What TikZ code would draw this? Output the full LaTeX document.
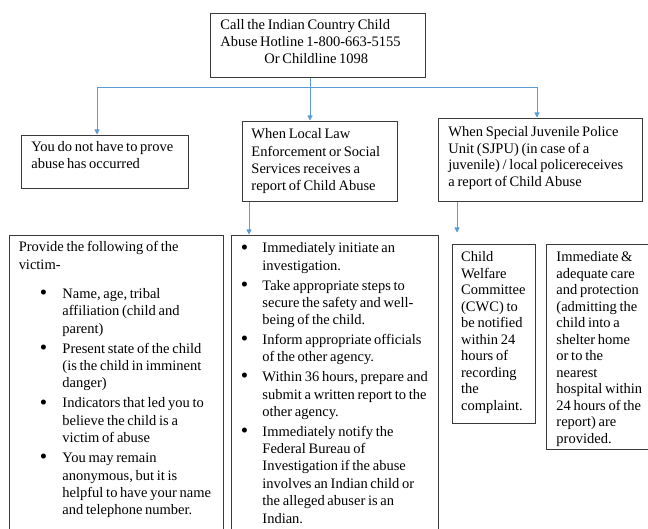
\documentclass[tikz,border=0pt]{standalone}
\usepackage{fontspec}
\setmainfont{Liberation Serif}[WordSpace=0.75]
\usetikzlibrary{arrows.meta}
\definecolor{conncol}{HTML}{5B9BD5}
\definecolor{edgecol}{HTML}{3A3A3A}
\newcommand\tstr{\rule{0pt}{11pt}}
\newcommand\bl[1]{\mbox{#1}\par}
\newcommand\bigbul{\raisebox{-1.2pt}{\fontsize{21}{21}\selectfont\textbullet}}
\newcommand\lbu{\hspace*{21pt}\makebox[22.7pt][l]{\bigbul}}
\newcommand\lco{\hspace*{43.7pt}}
\newcommand\mbu{\hspace*{1.5pt}\makebox[21.5pt][l]{\bigbul}}
\newcommand\mco{\hspace*{23pt}}
\newcommand\fs[1]{\fontsize{14.5}{#1}\selectfont}
\tikzset{
  box/.style={draw=edgecol, line width=0.9pt, anchor=north west, fill=white},
  conn/.style={draw=conncol, line width=0.8pt},
  arr/.style={conn, -{Triangle[width=5pt,length=5pt]}, shorten >=0.5pt}
}
\begin{document}
\begin{tikzpicture}[x=1pt,y=-1pt]
\fill[white] (0,0) rectangle (648,529);
\useasboundingbox (0,0) rectangle (648,529);

\node[box, inner xsep=10pt, inner ysep=5.8pt] (call) at (210,12.7)
 {\parbox[t][52.7pt][t]{195pt}{\fs{16.7}%
  \bl{\tstr Call the Indian Country Child}%
  \bl{Abuse Hotline 1-800-663-5155}%
  \bl{\hspace*{44pt}Or Childline 1098}}};

\node[box, inner xsep=10pt, inner ysep=5.5pt] (you) at (21,135)
 {\parbox[t][42pt][t]{147pt}{\fs{17}%
  \bl{\tstr You do not have to prove}%
  \bl{abuse has occurred}}};

\node[box, inner xsep=9pt, inner ysep=6.5pt] (lle) at (242,121)
 {\parbox[t][67pt][t]{137pt}{\fs{17.3}%
  \bl{\tstr When Local Law}%
  \bl{Enforcement or Social}%
  \bl{Services receives a}%
  \bl{report of Child Abuse}}};

\node[box, inner xsep=10pt, inner ysep=7.5pt] (sjpu) at (438,118)
 {\parbox[t][68pt][t]{184pt}{\fs{16.4}%
  \bl{\tstr When Special Juvenile Police}%
  \bl{Unit (SJPU) (in case of a}%
  \bl{juvenile) / local policereceives}%
  \bl{a report of Child Abuse}}};

\node[box, inner xsep=9.3pt, inner ysep=5.5pt] (prov) at (9,235)
 {\parbox[t][305pt][t]{195.4pt}{\fs{17.4}%
  \bl{\tstr Provide the following of the}%
  \bl{victim-}%
  \vspace{11.6pt}%
  \bl{\lbu Name, age, tribal}%
  \bl{\lco affiliation (child and}%
  \bl{\lco parent)}%
  \vspace{2.6pt}%
  \bl{\lbu Present state of the child}%
  \bl{\lco (is the child in imminent}%
  \bl{\lco danger)}%
  \vspace{2.6pt}%
  \bl{\lbu Indicators that led you to}%
  \bl{\lco believe the child is a}%
  \bl{\lco victim of abuse}%
  \vspace{2.6pt}%
  \bl{\lbu You may remain}%
  \bl{\lco anonymous, but it is}%
  \bl{\lco helpful to have your name}%
  \bl{\lco and telephone number.}}};

\node[box, inner xsep=8pt, inner ysep=6.5pt] (act) at (231,235)
 {\parbox[t][305pt][t]{191pt}{\fs{17.4}%
  \bl{\tstr\mbu Immediately initiate an}%
  \bl{\mco investigation.}%
  \vspace{2.3pt}%
  \bl{\mbu Take appropriate steps to}%
  \bl{\mco secure the safety and well-}%
  \bl{\mco being of the child.}%
  \vspace{2.3pt}%
  \bl{\mbu Inform appropriate officials}%
  \bl{\mco of the other agency.}%
  \vspace{2.3pt}%
  \bl{\mbu Within 36 hours, prepare and}%
  \bl{\mco submit a written report to the}%
  \bl{\mco other agency.}%
  \vspace{2.3pt}%
  \bl{\mbu Immediately notify the}%
  \bl{\mco Federal Bureau of}%
  \bl{\mco Investigation if the abuse}%
  \bl{\mco involves an Indian child or}%
  \bl{\mco the alleged abuser is an}%
  \bl{\mco Indian.}}};

\node[box, inner xsep=8.7pt, inner ysep=6.5pt] (cwc) at (452,244)
 {\parbox[t][166pt][t]{65.6pt}{\fs{16.5}%
  \bl{\tstr Child}%
  \bl{Welfare}%
  \bl{Committee}%
  \bl{(CWC) to}%
  \bl{be notified}%
  \bl{within 24}%
  \bl{hours of}%
  \bl{recording}%
  \bl{the}%
  \bl{complaint.}}};

\node[box, inner xsep=10.3pt, inner ysep=6.5pt] (care) at (545.7,244)
 {\parbox[t][192pt][t]{93.7pt}{\fs{16.5}%
  \bl{\tstr Immediate \&}%
  \bl{adequate care}%
  \bl{and protection}%
  \bl{(admitting the}%
  \bl{child into a}%
  \bl{shelter home}%
  \bl{or to the}%
  \bl{nearest}%
  \bl{hospital within}%
  \bl{24 hours of the}%
  \bl{report) are}%
  \bl{provided.}}};

\coordinate (hub) at (310,87);
\coordinate (xl) at (97,0);
\coordinate (xr) at (537,0);
\coordinate (xm) at (249,0);
\coordinate (xs) at (457,0);
\coordinate (send) at (457,233);

\draw[conn] (call.south -| hub) -- (hub);
\draw[conn] (hub -| xl) -- (hub -| xr);
\draw[arr] (hub -| xl) -- (you.north -| xl);
\draw[arr] (hub) -- (lle.north -| hub);
\draw[arr] (hub -| xr) -- (sjpu.north -| xr);
\draw[arr] (lle.south -| xm) -- (act.north -| xm);
\draw[arr] (sjpu.south -| xs) -- (send);
\end{tikzpicture}
\end{document}
